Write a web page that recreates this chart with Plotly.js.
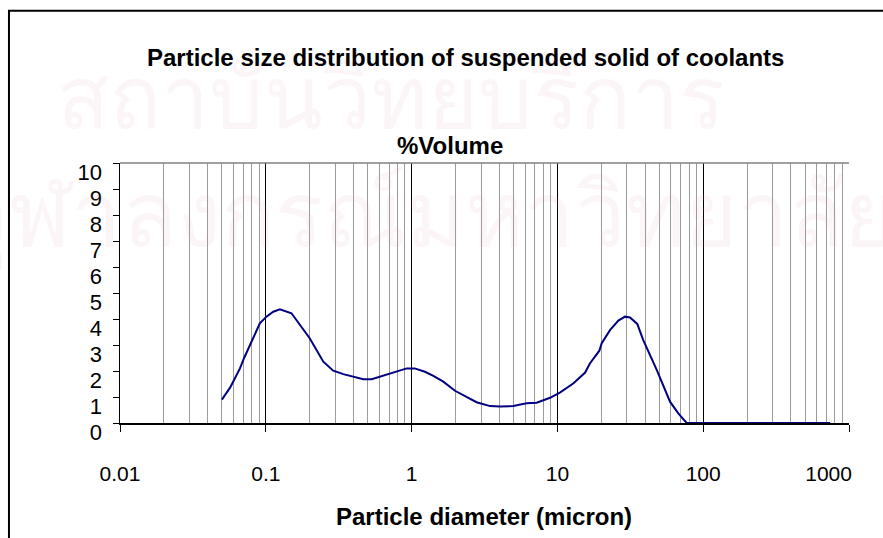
<!DOCTYPE html>
<html>
<head>
<meta charset="utf-8">
<script src="https://cdn.plot.ly/plotly-3.0.1.min.js"></script>
<style>
  html, body { margin: 0; padding: 0; background: #fff; }
  #chart { width: 883px; height: 538px; }
</style>
</head>
<body>
<div id="chart"></div>
<script>
// Particle diameter (micron)
const diameter = [0.05, 0.057, 0.0665, 0.071, 0.091, 0.101, 0.1125, 0.125, 0.15, 0.171, 0.2,
  0.248, 0.29, 0.34, 0.398, 0.467, 0.532, 0.607, 0.69, 0.83, 0.926, 1.05, 1.235, 1.41, 1.65,
  1.985, 2.26, 2.79, 3.45, 4.04, 4.98, 6.15, 7.21, 8.9, 10.4, 12.9, 15.5, 16.7, 19.4, 20.1,
  23, 26.2, 29.1, 31.5, 35.3, 38.8, 48, 59.2, 67.5, 77, 100, 150, 200, 300, 400, 500, 600, 742];
// %Volume
const volume = [0.9, 1.37, 2.1, 2.5, 3.83, 4.09, 4.28, 4.37, 4.22, 3.8, 3.26,
  2.36, 2.01, 1.88, 1.78, 1.68, 1.68, 1.78, 1.85, 2.01, 2.1, 2.1, 1.97, 1.81, 1.59,
  1.24, 1.08, 0.8, 0.65, 0.63, 0.65, 0.76, 0.78, 0.97, 1.17, 1.53, 1.94, 2.29, 2.78, 3.06,
  3.58, 3.94, 4.09, 4.06, 3.81, 3.19, 2.04, 0.82, 0.37, 0, 0, 0, 0, 0, 0, 0, 0, 0];

const xTickVals = [0.01, 0.1, 1, 10, 100, 1000];
const xTickText = ['0.01', '0.1', '1', '10', '100', '1000'];
const yTickVals = [0, 1, 2, 3, 4, 5, 6, 7, 8, 9, 10];

const chartTitle = 'Particle size distribution of suspended solid of coolants';
const yTitle = '%Volume';
const xTitle = 'Particle diameter (micron)';
const watermark1 = 'สถาบันวิทยบริการ';
const watermark2 = 'จุฬาลงกรณ์มหาวิทยาลัย';

const FONT = 'Arial, "Liberation Sans", sans-serif';
const NB = '\u00a0';

// last label sits inside the frame, as in the reference
const xTickShown = xTickText.map((t, i) => i === xTickText.length - 1 ? t + NB.repeat(7) : t);

const trace = {
  x: diameter, y: volume, type: 'scatter', mode: 'lines',
  line: { color: '#000080', width: 2 },
  hoverinfo: 'x+y'
};

const wmColor = 'rgba(225,160,185,0.1)';

const layout = {
  width: 883, height: 538,
  margin: { l: 120, r: 34, t: 163, b: 115 },
  paper_bgcolor: 'rgba(0,0,0,0)',
  plot_bgcolor: 'rgba(0,0,0,0)',
  showlegend: false,
  font: { family: FONT, color: '#000' },
  xaxis: {
    type: 'log', range: [-2, 3],
    tickvals: xTickVals, ticktext: xTickShown,
    tickfont: { size: 21, family: FONT },
    ticks: 'outside', ticklen: 7, tickcolor: '#000', tickwidth: 1,
    ticklabelstandoff: 24, ticklabeloverflow: 'allow',
    showline: true, linecolor: '#000', linewidth: 1.5,
    showgrid: true, gridcolor: '#000', gridwidth: 1,
    minor: { dtick: 'D1', showgrid: true, gridcolor: '#9a9a9a', gridwidth: 1, ticks: '' },
    zeroline: false, fixedrange: true
  },
  yaxis: {
    range: [0, 10], tickvals: yTickVals,
    tickfont: { size: 22, family: FONT },
    ticks: 'outside', ticklen: 6, tickcolor: '#000', tickwidth: 1,
    ticklabelshift: 9, ticklabelstandoff: 6,
    showline: true, linecolor: '#000', linewidth: 1.5,
    showgrid: false, zeroline: false, fixedrange: true
  },
  shapes: [
    { type: 'line', xref: 'paper', yref: 'paper', x0: 0, x1: 1, y0: 1, y1: 1,
      line: { color: '#808080', width: 1.5 } },
    { type: 'rect', xref: 'paper', yref: 'paper', x0: -0.1523, x1: 1.5, y0: -1, y1: 1.586,
      line: { color: '#000', width: 2 }, fillcolor: 'rgba(0,0,0,0)' }
  ],
  annotations: [
    { text: watermark1, xref: 'paper', yref: 'paper', x: 0.372, y: 1.25, xanchor: 'center', yanchor: 'middle',
      showarrow: false, font: { size: 86, color: wmColor } },
    { text: watermark2, xref: 'paper', yref: 'paper', x: 0.42, y: 0.79, xanchor: 'center', yanchor: 'middle',
      showarrow: false, font: { size: 90, color: wmColor } },
    { text: '<b>' + chartTitle + '</b>', xref: 'paper', yref: 'paper', x: 0.4733, y: 1.404,
      xanchor: 'center', yanchor: 'middle', showarrow: false, font: { size: 24, family: FONT } },
    { text: '<b>' + yTitle + '</b>', xref: 'paper', yref: 'paper', x: 0.4527, y: 1.069,
      xanchor: 'center', yanchor: 'middle', showarrow: false, font: { size: 24, family: FONT } },
    { text: '<b>' + xTitle + '</b>', xref: 'paper', yref: 'paper', x: 0.4993, y: -0.358,
      xanchor: 'center', yanchor: 'middle', showarrow: false, font: { size: 24, family: FONT } }
  ]
};

Plotly.newPlot('chart', [trace], layout, { staticPlot: true, displayModeBar: false });
</script>
</body>
</html>
